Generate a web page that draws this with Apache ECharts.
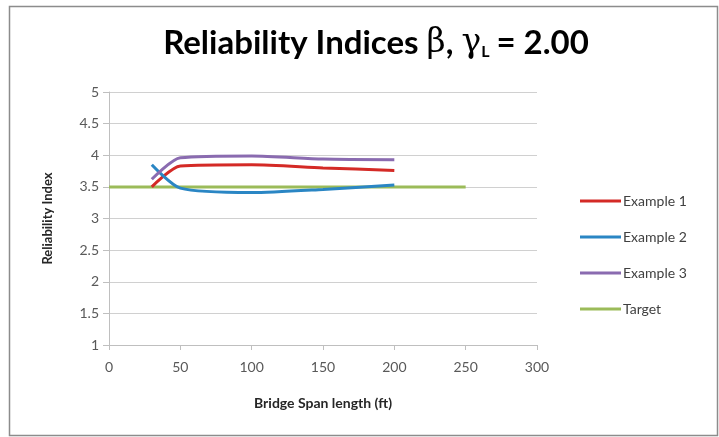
<!DOCTYPE html>
<html>
<head>
<meta charset="utf-8">
<script src="https://cdn.jsdelivr.net/npm/echarts@6/dist/echarts.min.js"></script>
<style>
  html, body { margin: 0; padding: 0; background: #fff; }
  #chart { width: 719px; height: 437px; }
</style>
</head>
<body>
<div id="chart"></div>
<script>
// Span lengths (ft) and reliability indices per example
const spans = [30, 50, 100, 150, 200];
const example1 = [3.50, 3.83, 3.85, 3.80, 3.76];
const example2 = [3.85, 3.48, 3.41, 3.46, 3.53];
const example3 = [3.62, 3.96, 3.99, 3.94, 3.93];
const targetSpans = [0, 50, 100, 150, 200, 250];
const targetBeta = [3.5, 3.5, 3.5, 3.5, 3.5, 3.5];

const seriesNames = ['Example 1', 'Example 2', 'Example 3', 'Target'];
const seriesColors = ['#d42a26', '#2a86c4', '#8a6bb0', '#9bbb59'];

const pairs = (xs, ys) => xs.map((x, i) => [x, ys[i]]);
const seriesData = [
  pairs(spans, example1),
  pairs(spans, example2),
  pairs(spans, example3),
  pairs(targetSpans, targetBeta)
];

const FONT = 'Lato, "Open Sans", sans-serif';
const chart = echarts.init(document.getElementById('chart'), null, { renderer: 'canvas' });

chart.setOption({
  backgroundColor: '#ffffff',
  animation: false,
  graphic: [{
    type: 'rect',
    shape: { x: 9.5, y: 6.5, width: 708, height: 429 },
    style: { fill: 'none', stroke: '#8c8c8c', lineWidth: 1.5 },
    silent: true
  }],
  title: {
    text: '{a|Reliability Indices }{g|β}{a|, }{g|γ}{s|L}{a|= 2.00}',
    left: 371,
    textAlign: 'center',
    top: 21,
    textStyle: {
      rich: {
        a: { fontFamily: FONT, fontWeight: 'bold', fontSize: 33, color: '#000' },
        g: { fontFamily: '"DejaVu Serif", "Liberation Serif", serif', fontWeight: 'normal', fontSize: 33, color: '#000' },
        s: { fontFamily: FONT, fontWeight: 'bold', fontSize: 16, color: '#000', padding: [18, 7, 0, 0] }
      }
    }
  },
  legend: {
    orient: 'vertical',
    left: 575,
    top: 189,
    itemWidth: 41,
    itemHeight: 3,
    itemGap: 22,
    icon: 'rect',
    data: seriesNames,
    textStyle: { fontFamily: FONT, fontSize: 14, color: '#404040', padding: [0, 0, 0, -3] }
  },
  grid: { left: 109, right: 182, top: 92, bottom: 92 },
  xAxis: {
    type: 'value',
    min: 0, max: 300, interval: 50,
    name: 'Bridge Span length (ft)',
    nameLocation: 'middle',
    nameGap: 51,
    nameTextStyle: { fontFamily: FONT, fontWeight: 'bold', fontSize: 14, color: '#262626' },
    axisLine: { show: true, lineStyle: { color: '#bfbfbf', width: 1 } },
    axisTick: { show: true, length: 5, lineStyle: { color: '#bfbfbf' } },
    axisLabel: { fontFamily: FONT, fontSize: 14, color: '#595959', margin: 15 },
    splitLine: { show: false }
  },
  yAxis: {
    type: 'value',
    min: 1, max: 5, interval: 0.5,
    name: 'Reliability Index',
    nameLocation: 'middle',
    nameGap: 55,
    nameRotate: 90,
    nameTextStyle: { fontFamily: FONT, fontWeight: 'bold', fontSize: 13, color: '#262626' },
    axisLine: { show: true, lineStyle: { color: '#bfbfbf', width: 1 } },
    axisTick: { show: true, length: 6, lineStyle: { color: '#bfbfbf' } },
    axisLabel: { fontFamily: FONT, fontSize: 14, color: '#595959', margin: 10 },
    splitLine: { show: true, lineStyle: { color: '#d0d0d0', width: 1 } }
  },
  series: seriesNames.map((name, i) => ({
    name,
    type: 'line',
    data: seriesData[i],
    smooth: 0.25,
    showSymbol: false,
    symbol: 'none',
    color: seriesColors[i],
    lineStyle: { width: 3, color: seriesColors[i] },
    z: i === 3 ? 1 : 2
  }))
});
</script>
</body>
</html>
